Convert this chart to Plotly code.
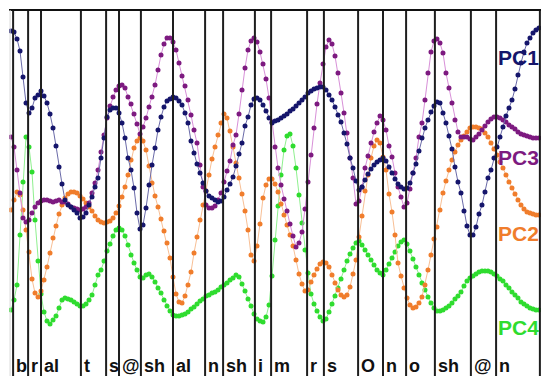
import plotly.graph_objects as go

# frame index (one frame = one analysis step)
frames = list(range(177))

pc1 = [345,344,337,325,299,273,263,268,278,281,
       285,280,273,262,248,230,209,192,176,171,
       169,166,163,158,159,163,171,179,189,198,
       218,238,259,266,268,268,263,253,238,218,
       206,188,163,147,151,168,191,211,228,246,
       259,269,275,277,279,278,275,271,263,253,
       235,223,212,203,193,185,180,178,176,174,
       175,179,186,192,199,210,222,233,250,259,
       271,277,278,276,271,265,258,253,255,256,
       258,260,262,265,267,270,273,276,279,283,
       285,287,288,289,289,286,281,276,269,261,
       254,243,232,218,208,195,186,189,196,202,
       207,211,214,216,218,215,209,203,197,192,
       189,187,188,193,203,212,225,238,248,256,
       264,270,274,273,263,253,240,227,209,194,
       183,165,150,141,141,149,162,171,184,198,
       206,218,229,239,249,260,268,276,287,301,
       313,324,333,338,343,346,348]

pc2 = [166,176,184,181,166,146,124,97,83,79,
       85,96,109,123,138,150,162,171,178,182,
       184,184,183,180,177,173,169,165,160,156,
       154,153,154,155,158,163,170,179,189,201,
       216,228,235,238,235,226,210,193,180,169,
       157,145,133,118,99,82,74,73,80,91,
       104,123,139,156,171,185,201,217,229,241,
       253,262,258,245,229,213,198,182,165,146,
       121,115,130,152,178,191,197,197,192,184,
       172,161,151,141,130,116,102,92,85,86,
       94,101,107,112,114,113,109,101,93,86,
       81,79,81,89,102,116,139,160,185,201,
       218,230,236,233,219,206,182,164,141,113,
       100,88,78,71,68,69,73,79,91,106,
       121,137,149,166,183,195,206,216,224,231,
       236,240,244,248,249,249,248,247,243,239,
       233,227,221,214,208,201,194,188,182,176,
       171,167,164,163,162,161,161]

pc3 = [239,229,206,183,158,154,156,163,169,173,
       175,176,176,175,174,175,176,174,174,172,
       169,168,167,166,167,169,173,183,193,206,
       224,241,258,270,279,286,290,291,288,279,
       272,262,252,242,249,258,269,279,291,306,
       321,332,338,338,334,326,313,300,290,276,
       261,246,233,211,189,171,168,168,170,176,
       183,194,205,215,231,241,262,286,308,326,
       335,338,334,324,312,297,278,254,229,208,
       191,177,165,152,140,129,133,144,167,194,
       221,248,272,293,312,329,336,332,320,303,
       283,263,243,218,198,172,175,189,208,220,
       233,244,253,260,256,246,230,219,203,189,
       179,169,173,187,203,218,239,253,276,303,
       324,335,337,333,323,303,288,273,256,244,
       239,239,239,237,236,239,242,246,250,254,
       257,259,259,258,256,254,251,249,247,244,
       242,241,240,239,238,238,238]

pc4 = [66,76,91,141,194,239,229,204,156,115,
       82,64,55,52,56,60,68,76,78,77,
       76,74,72,70,70,72,76,81,91,101,
       106,115,125,132,140,146,148,146,140,131,
       121,113,106,99,98,101,102,99,94,88,
       83,76,70,65,61,60,60,61,62,64,
       67,69,72,75,77,80,81,83,84,86,
       89,91,93,96,98,101,99,92,85,77,
       70,62,57,55,54,59,71,100,136,170,
       201,226,240,242,230,208,181,153,126,103,
       82,72,65,59,55,57,64,72,80,88,
       97,106,115,122,128,133,135,131,126,121,
       116,111,106,103,101,106,112,118,124,130,
       134,136,132,125,117,109,101,93,86,79,
       73,68,65,65,66,68,70,73,77,80,
       84,90,95,98,100,102,104,105,105,105,
       104,102,100,97,95,91,88,84,81,78,
       74,72,70,68,67,66,66]

# segment boundaries (in frames) and phoneme labels
boundaries = [0.7, 5.7, 10, 23.3, 31.7, 36, 43.3, 54, 64.7, 70.7,
              81.3, 86.7, 98.7, 104.3, 115.7, 124, 131.7, 141.3, 153.3, 161.7, 176.3]
phonemes = ["b", "r", "al", "t", "s", "@", "sh", "al", "n", "sh",
            "i", "m", "r", "s", "O", "n", "o", "sh", "@", "n"]

series = [
    ("PC4", pc4, "#2fdc2f", "#8ff08f", 49),
    ("PC2", pc2, "#f07d2c", "#f8bf95", 143),
    ("PC3", pc3, "#7d1a80", "#d890d8", 219),
    ("PC1", pc1, "#15156b", "#6a6aa8", 319),
]

FONT = "Liberation Sans, Arial, sans-serif"

fig = go.Figure()
for name, vals, col, lcol, _ in series:
    fig.add_trace(go.Scatter(
        x=frames, y=vals, mode="lines+markers", name=name,
        line=dict(color=lcol, width=1),
        marker=dict(color=col, size=5, line=dict(width=0)),
        showlegend=False, cliponaxis=True, hoverinfo="skip",
    ))

shapes = []
for b in boundaries:
    shapes.append(dict(type="line", xref="x", yref="paper", x0=b, x1=b, y0=0, y1=1,
                       line=dict(color="#1e1e1e", width=2), layer="above"))
shapes.append(dict(type="line", xref="paper", yref="paper", x0=0, x1=1, y0=1, y1=1,
                   line=dict(color="#111111", width=2)))
shapes.append(dict(type="line", xref="paper", yref="paper", x0=0.002, x1=0.002, y0=0, y1=1,
                   line=dict(color="#d8d8d8", width=1)))

annotations = []
for b, p in zip(boundaries[:-1], phonemes):
    annotations.append(dict(x=b, y=10, xref="x", yref="y", text="<b>%s</b>" % p, showarrow=False,
                            xanchor="left", yanchor="middle", xshift=1,
                            font=dict(family=FONT, size=18, color="#111111")))
for name, vals, col, lcol, ly in series:
    annotations.append(dict(x=161.8, y=ly, xref="x", yref="y", text="<b>%s</b>" % name,
                            showarrow=False, xanchor="left", yanchor="middle",
                            font=dict(family=FONT, size=21, color=col)))

fig.update_layout(
    width=541, height=376,
    margin=dict(l=9, r=0, t=10, b=0),
    paper_bgcolor="white", plot_bgcolor="white",
    xaxis=dict(range=[-0.67, 176.67], visible=False, fixedrange=True),
    yaxis=dict(range=[0, 366], visible=False, fixedrange=True),
    shapes=shapes, annotations=annotations,
)

fig.write_html("out.html", config={"displayModeBar": False},
               post_script="document.body.style.margin='0px';document.body.style.overflow='hidden';")
